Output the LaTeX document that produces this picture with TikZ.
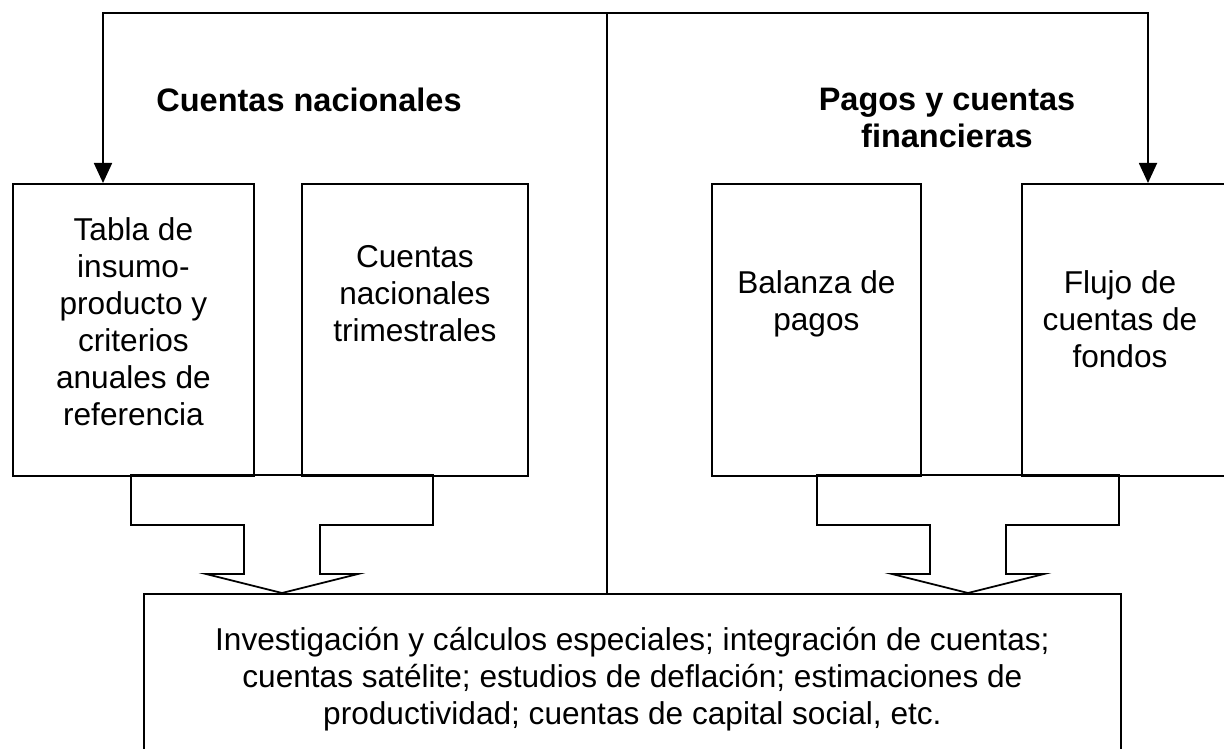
\documentclass[tikz,border=0pt]{standalone}
\usepackage{fontspec}
\setmainfont{Liberation Sans}
\usetikzlibrary{arrows.meta,calc,positioning}
\tikzset{%
	caja/.style   = {draw, rectangle, line width=1.8pt, minimum height=292pt, inner sep=0pt, anchor=north west},
	texto/.style  = {align=center, inner sep=0pt, anchor=north, font=\fontsize{31.6}{37}\selectfont},
	titulo/.style = {align=center, inner sep=0pt, anchor=north, font=\fontsize{32.5}{37}\selectfont\bfseries},
	flecha/.style = {line width=1.8pt, -{Triangle[width=18pt,length=20pt]}},
	bloque/.style = {line width=1.8pt, line join=miter},
}

\begin{document}
\begin{tikzpicture}[x=1pt,y=-1pt]
	\useasboundingbox (0,0) rectangle (1224,749);
	\clip (0,0) rectangle (1224,749);
	
	\node[caja, minimum width=241pt] (tabla) at (12,183) {};
	\node[caja, minimum width=226pt] (trim) at (301,183) {};
	\node[caja, minimum width=209pt] (balanza) at (711,183) {};
	\node[caja, minimum width=230pt] (flujo) at (1021,183) {};
	\node[caja, minimum width=977pt, minimum height=170pt] (investig) at (143,593) {};
	
	\node[texto] (tablatxt) at (tabla.north |- 0,217) {Tabla de\\insumo-\\producto y\\criterios\\anuales de\\referencia};
	\node[texto] (trimtxt) at (trim.north |- 0,245) {Cuentas\\nacionales\\trimestrales};
	\node[texto] (balanzatxt) at (balanza.north |- 0,270) {Balanza de\\pagos};
	\node[texto] (flujotxt) at (1120,270) {Flujo de\\cuentas de\\fondos};
	\node[texto] (investigtxt) at (investig.north |- 0,627) {Investigación y cálculos especiales; integración de cuentas;\\cuentas satélite; estudios de deflación; estimaciones de\\productividad; cuentas de capital social, etc.};
	
	\node[titulo] (nacional) at (309,88) {Cuentas nacionales};
	\node[titulo] (pagos) at (947,88) {Pagos y cuentas\\financieras};
	
	\coordinate (cruce) at (607,13);
	\coordinate (izq) at ([xshift=91pt]tabla.north west);
	\coordinate (der) at ([xshift=127pt]flujo.north west);
	\draw[line width=1.8pt] (cruce) -- (cruce |- investig.north);
	\draw[flecha] (cruce) -| (izq);
	\draw[flecha] (cruce) -| (der);
	
	\foreach \c in {282,968} \draw[bloque] (\c-151,475) -- (\c-151,525) -- (\c-38,525) -- (\c-38,574) -- (\c-76,574) -- (\c,593) -- (\c+76,574) -- (\c+38,574) -- (\c+38,525) -- (\c+151,525) -- (\c+151,475) -- cycle;
\end{tikzpicture}
\end{document}
